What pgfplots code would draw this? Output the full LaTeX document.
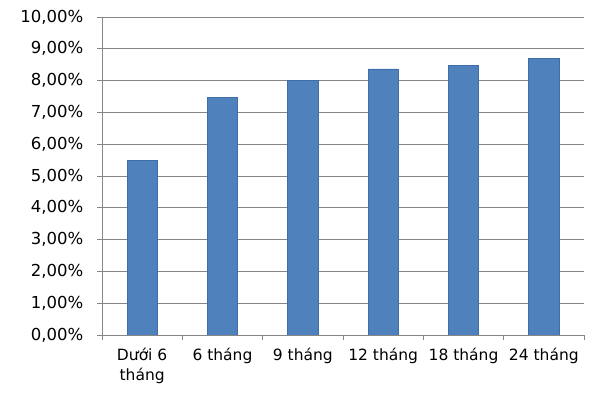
\documentclass[border=0pt]{standalone}
\usepackage{pgfplots}
\pgfplotsset{compat=1.18}
\usepackage{fontspec}
\setmainfont{DejaVu Sans}
\definecolor{barblue}{HTML}{4F81BD}
\definecolor{baredge}{HTML}{3F6EA6}
\definecolor{gridgray}{HTML}{868686}
\begin{document}
\begin{tikzpicture}
\fontsize{16.5bp}{20bp}\selectfont
\path (-102bp,-65bp) rectangle (498bp,335bp);
\begin{axis}[
  at={(0,0)}, anchor=south west,
  scale only axis, width=482bp, height=318bp,
  xmin=-0.5, xmax=5.5, ymin=0, ymax=10,
  axis x line*=bottom, axis y line*=left,
  axis line style={gridgray, line width=0.9pt},
  xtick={0,...,5},
  xticklabels={{Dưới 6\\tháng},{6 tháng},{9 tháng},{12 tháng},{18 tháng},{24 tháng}},
  major x tick style={draw=none},
  minor xtick={-0.5,0.5,...,5.5},
  minor tick length=5bp,
  minor x tick style={gridgray, line width=0.9pt},
  xticklabel style={align=center, yshift=-2bp, text depth=0pt, font=\fontsize{15.5bp}{20bp}\selectfont},
  ytick={0,1,...,10},
  yticklabel={\pgfmathprintnumber[fixed,fixed zerofill,precision=2,use comma,assume math mode=true]{\tick}\%},
  /pgf/number format/assume math mode=true,
  ymajorgrids, grid style={gridgray, line width=0.9pt},
  major tick length=5bp,
  y tick style={gridgray, line width=0.9pt},
  tick align=outside,
  yticklabel style={xshift=-8bp, font=\fontsize{16.5bp}{20bp}\selectfont},
  tick label style={text=black},
  ybar, bar width=0.375,
]
\addplot[fill=barblue, draw=baredge, line width=0.6pt] coordinates {
  (0,5.50) (1,7.48) (2,8.00) (3,8.37) (4,8.49) (5,8.70)
};
\end{axis}
\end{tikzpicture}
\end{document}
